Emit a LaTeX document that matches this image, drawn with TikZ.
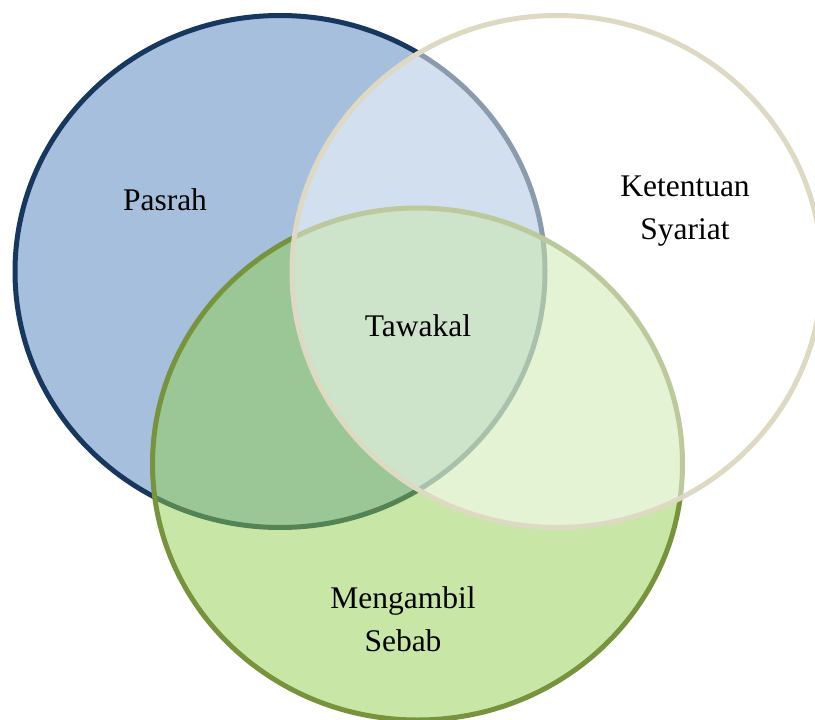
\documentclass[tikz,border=0pt]{standalone}
\usepackage{fontspec}
\setmainfont{Liberation Serif}
\definecolor{bluefill}{HTML}{4F81BD}
\definecolor{bluedraw}{HTML}{17375E}
\definecolor{greenfill}{HTML}{92D050}
\definecolor{greendraw}{HTML}{77933C}
\definecolor{tandraw}{HTML}{DDD9C3}
\tikzset{
  venn/.style={line width=5pt, fill opacity=0.5, draw opacity=1},
  lbl/.style={align=center, font=\fontsize{31.5}{43}\selectfont, text=black, inner sep=0pt}
}
\begin{document}
\begin{tikzpicture}[x=1pt,y=-1pt]
\useasboundingbox (0,0) rectangle (815,720);
\clip (0,0) rectangle (815,720);
\fill[white] (0,0) rectangle (815,720);
\draw[venn, draw=bluedraw, fill=bluefill] (280,271.5) ellipse [x radius=265, y radius=256];
\draw[venn, draw=greendraw, fill=greenfill] (417.5,464) ellipse [x radius=265, y radius=256];
\draw[venn, draw=tandraw, fill=white] (557,271.5) ellipse [x radius=265, y radius=256];
\node[lbl] (pasrah) at (165,200) {Pasrah};
\node[lbl] (ketentuan) at (685,211) {Ketentuan\\Syariat};
\node[lbl] (tawakal) at (418,326) {Tawakal};
\node[lbl] (mengambil) at (403,619) {Mengambil\\Sebab};
\end{tikzpicture}
\end{document}
